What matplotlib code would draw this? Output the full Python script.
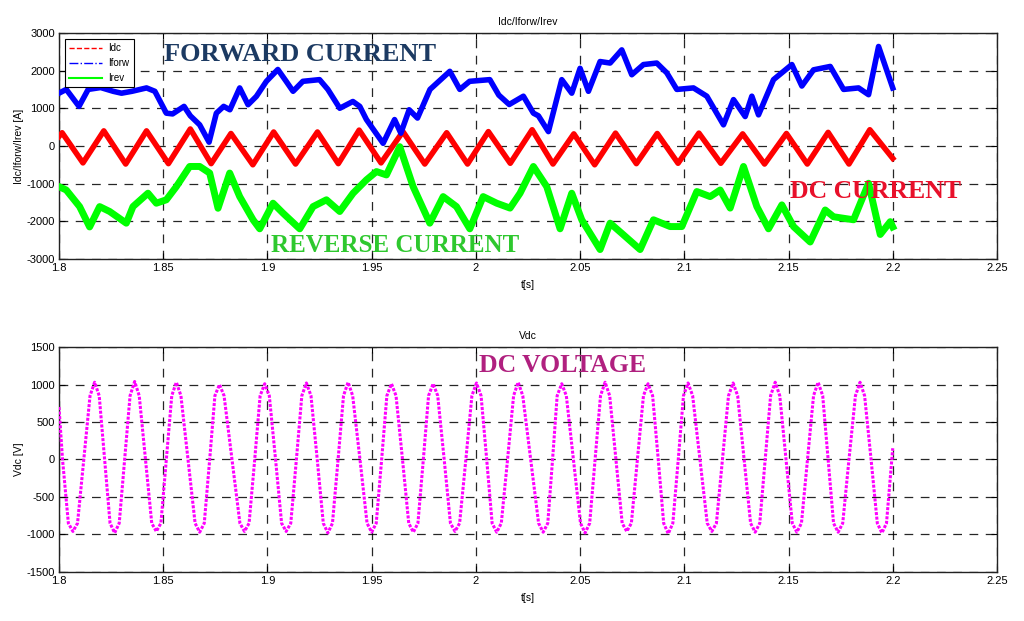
import matplotlib
matplotlib.use("Agg")
import matplotlib.pyplot as plt
from matplotlib.lines import Line2D

# Idc: turning points of the DC current ripple
idc_t = [1.8000, 1.8015, 1.8115, 1.8215, 1.8320, 1.8420, 1.8525, 1.8630, 1.8730, 1.8825,
         1.8930, 1.9030, 1.9135, 1.9240, 1.9340, 1.9440, 1.9545, 1.9650, 1.9755, 1.9860,
         1.9960, 2.0060, 2.0165, 2.0270, 2.0370, 2.0470, 2.0570, 2.0670, 2.0770, 2.0870,
         2.0970, 2.1070, 2.1175, 2.1280, 2.1385, 2.1490, 2.1590, 2.1690, 2.1790, 2.1890,
         2.2000]
idc_v = [250, 350, -450, 400, -480, 400, -470, 450, -470, 330,
         -500, 370, -480, 370, -470, 420, -450, 380, -480, 350,
         -480, 380, -460, 430, -480, 320, -500, 340, -470, 330,
         -460, 340, -460, 320, -480, 330, -480, 360, -480, 430,
         -330]

# Iforw: forward current
iforw_t = [1.8000, 1.8035, 1.8096, 1.8140, 1.8200, 1.8260, 1.8300, 1.8350, 1.8420, 1.8460,
           1.8515, 1.8545, 1.8600, 1.8630, 1.8675, 1.8720, 1.8755, 1.8790, 1.8820, 1.8867,
           1.8907, 1.8947, 1.8995, 1.9050, 1.9090, 1.9123, 1.9170, 1.9250, 1.9290, 1.9347,
           1.9410, 1.9443, 1.9475, 1.9555, 1.9610, 1.9640, 1.9680, 1.9720, 1.9780, 1.9875,
           1.9923, 1.9970, 2.0067, 2.0110, 2.0160, 2.0228, 2.0276, 2.0300, 2.0348, 2.0412,
           2.0460, 2.0500, 2.0540, 2.0596, 2.0644, 2.0700, 2.0748, 2.0804, 2.0868, 2.0916,
           2.0964, 2.1044, 2.1108, 2.1188, 2.1236, 2.1292, 2.1324, 2.1356, 2.1428, 2.1516,
           2.1564, 2.1620, 2.1700, 2.1764, 2.1836, 2.1884, 2.1932, 2.2000]
iforw_v = [1400, 1500, 1050, 1500, 1550, 1450, 1400, 1450, 1540, 1450,
           870, 850, 1050, 800, 560, 100, 870, 1050, 960, 1540,
           1095, 1316, 1715, 2030, 1715, 1450, 1715, 1760, 1500, 1000,
           1180, 1050, 700, 70, 700, 340, 960, 740, 1500, 1980,
           1500, 1715, 1760, 1350, 1100, 1320, 870, 800, 380, 1760,
           1400, 2060, 1450, 2240, 2200, 2550, 1890, 2160, 2200, 1940,
           1500, 1540, 1320, 560, 1230, 780, 1320, 825, 1760, 2160,
           1590, 2020, 2110, 1500, 1540, 1360, 2640, 1540]

# Irev: reverse current
irev_t = [1.8000, 1.8035, 1.8099, 1.8147, 1.8195, 1.8243, 1.8323, 1.8355, 1.8427, 1.8467,
          1.8515, 1.8563, 1.8627, 1.8675, 1.8723, 1.8763, 1.8819, 1.8867, 1.8931, 1.8963,
          1.9027, 1.9075, 1.9155, 1.9219, 1.9283, 1.9347, 1.9411, 1.9475, 1.9523, 1.9571,
          1.9635, 1.9699, 1.9779, 1.9843, 1.9907, 1.9971, 2.0035, 2.0100, 2.0164, 2.0212,
          2.0276, 2.0340, 2.0404, 2.0460, 2.0508, 2.0596, 2.0644, 2.0700, 2.0788, 2.0852,
          2.0932, 2.0988, 2.1060, 2.1124, 2.1172, 2.1220, 2.1284, 2.1348, 2.1404, 2.1468,
          2.1524, 2.1604, 2.1676, 2.1716, 2.1812, 2.1884, 2.1940, 2.1988, 2.2000]
irev_v = [-1080, -1170, -1610, -2150, -1610, -1740, -2050, -1610, -1255, -1520,
          -1430, -1080, -545, -545, -720, -1655, -720, -1345, -1960, -2200,
          -1520, -1785, -2200, -1610, -1430, -1740, -1255, -900, -680, -770,
          -20, -1080, -2050, -1345, -1610, -2200, -1345, -1520, -1650, -1255,
          -545, -1080, -2200, -1255, -1960, -2750, -2050, -2320, -2750, -1960,
          -2140, -2140, -1210, -1345, -1170, -1650, -545, -1610, -2200, -1565,
          -2140, -2550, -1700, -1880, -1960, -990, -2350, -2010, -2150]

# Vdc: DC voltage
vdc_t = [1.8000, 1.8017, 1.8045, 1.8067, 1.8089, 1.8119, 1.8149, 1.8171, 1.8193, 1.8219,
         1.8245, 1.8267, 1.8289, 1.8315, 1.8341, 1.8363, 1.8385, 1.8415, 1.8445, 1.8467,
         1.8489, 1.8515, 1.8541, 1.8563, 1.8585, 1.8619, 1.8653, 1.8675, 1.8697, 1.8723,
         1.8748, 1.8770, 1.8792, 1.8830, 1.8868, 1.8890, 1.8912, 1.8939, 1.8965, 1.8987,
         1.9009, 1.9039, 1.9068, 1.9090, 1.9112, 1.9139, 1.9165, 1.9187, 1.9209, 1.9239,
         1.9268, 1.9290, 1.9312, 1.9339, 1.9365, 1.9387, 1.9409, 1.9444, 1.9478, 1.9500,
         1.9522, 1.9548, 1.9573, 1.9595, 1.9617, 1.9648, 1.9678, 1.9700, 1.9722, 1.9748,
         1.9773, 1.9795, 1.9817, 1.9848, 1.9878, 1.9900, 1.9922, 1.9952, 1.9981, 2.0003,
         2.0025, 2.0052, 2.0078, 2.0100, 2.0122, 2.0152, 2.0181, 2.0203, 2.0225, 2.0263,
         2.0301, 2.0323, 2.0345, 2.0368, 2.0390, 2.0412, 2.0434, 2.0468, 2.0502, 2.0524,
         2.0546, 2.0572, 2.0598, 2.0620, 2.0642, 2.0672, 2.0702, 2.0724, 2.0746, 2.0775,
         2.0804, 2.0826, 2.0848, 2.0875, 2.0901, 2.0923, 2.0945, 2.0971, 2.0996, 2.1018,
         2.1040, 2.1075, 2.1110, 2.1132, 2.1154, 2.1183, 2.1212, 2.1234, 2.1256, 2.1287,
         2.1318, 2.1340, 2.1362, 2.1388, 2.1414, 2.1436, 2.1458, 2.1488, 2.1518, 2.1540,
         2.1562, 2.1591, 2.1620, 2.1642, 2.1664, 2.1690, 2.1716, 2.1738, 2.1760, 2.1790,
         2.1821, 2.1843, 2.1865, 2.1896, 2.1926, 2.1948, 2.1970, 2.2000]
vdc_v = [700, 0, -850, -960, -850, 0, 850, 1030, 850, 0,
         -850, -980, -850, 0, 850, 1040, 850, 0, -850, -960,
         -850, 0, 850, 1030, 850, 0, -850, -970, -850, 0,
         850, 1000, 850, 0, -850, -960, -850, 0, 850, 1010,
         850, 0, -850, -960, -850, 0, 850, 1020, 850, 0,
         -850, -980, -850, 0, 850, 1030, 850, 0, -850, -970,
         -850, 0, 850, 1010, 850, 0, -850, -970, -850, 0,
         850, 1010, 850, 0, -850, -960, -850, 0, 850, 1020,
         850, 0, -850, -970, -850, 0, 850, 1030, 850, 0,
         -850, -970, -850, 0, 850, 1010, 850, 0, -850, -980,
         -850, 0, 850, 1030, 850, 0, -850, -960, -850, 0,
         850, 1010, 850, 0, -850, -990, -850, 0, 850, 1020,
         850, 0, -850, -960, -850, 0, 850, 1020, 850, 0,
         -850, -970, -850, 0, 850, 1030, 850, 0, -850, -970,
         -850, 0, 850, 1030, 850, 0, -850, -970, -850, 0,
         850, 1030, 850, 0, -850, -980, -850, 150]

x_ticks = [1.8, 1.85, 1.9, 1.95, 2.0, 2.05, 2.1, 2.15, 2.2, 2.25]
x_labels = ["1.8", "1.85", "1.9", "1.95", "2", "2.05", "2.1", "2.15", "2.2", "2.25"]

plt.rcParams['font.family'] = ['Liberation Sans', 'DejaVu Sans']
plt.rcParams['font.size'] = 7
plt.rcParams['axes.unicode_minus'] = False

fig = plt.figure(figsize=(10.24, 6.21), dpi=100)
ax1 = fig.add_axes([0.0576, 0.583, 0.916, 0.364])
ax2 = fig.add_axes([0.0576, 0.079, 0.916, 0.3622])


def style_axis(ax, yticks):
    ax.set_xlim(1.8, 2.25)
    ax.set_xticks(x_ticks)
    ax.set_xticklabels(x_labels)
    ax.set_yticks(yticks)
    ax.set_ylim(yticks[0], yticks[-1])
    ax.tick_params(direction='in', top=True, right=True, length=4, width=0.8,
                   labelsize=8, pad=3, colors='black')
    ax.grid(True, color='black', linestyle=(0, (7, 6)), linewidth=0.9, alpha=0.85)
    for s in ax.spines.values():
        s.set_linewidth(1.0)
        s.set_color('#222222')


# top panel
ax1.plot(idc_t, idc_v, color='#ff0000', lw=4, zorder=3)
ax1.plot(iforw_t, iforw_v, color='#0000ff', lw=4, zorder=3)
ax1.plot(irev_t, irev_v, color='#00ff00', lw=5, zorder=4)
style_axis(ax1, [-3000, -2000, -1000, 0, 1000, 2000, 3000])
ax1.set_title("Idc/Iforw/Irev", fontsize=7.5, pad=6)
ax1.set_xlabel("t[s]", fontsize=7.5, labelpad=5)
ax1.set_ylabel("Idc/Iforw/Irev [A]", fontsize=7.5, labelpad=2)

handles = [Line2D([], [], color='#ff0000', ls='--', lw=1),
           Line2D([], [], color='#0000ff', ls='-.', lw=1),
           Line2D([], [], color='#00ff00', ls='-', lw=1.5)]
leg = ax1.legend(handles, ["Idc", "Iforw", "Irev"], loc='upper left',
                 bbox_to_anchor=(0.0064, 0.973), borderaxespad=0, fontsize=7,
                 frameon=True, fancybox=False, edgecolor='black', framealpha=1,
                 handlelength=3.4, handletextpad=0.6, borderpad=0.45,
                 labelspacing=0.5)
leg.get_frame().set_linewidth(0.8)
leg.set_zorder(10)

serif = ['Liberation Serif', 'DejaVu Serif']
ax1.text(1.9157, 2420, "FORWARD CURRENT", color='#1c3a62', fontsize=19,
         fontweight='bold', family=serif, ha='center', va='center', zorder=11)
ax1.text(1.9612, -2630, "REVERSE CURRENT", color='#2ec82e', fontsize=18,
         fontweight='bold', family=serif, ha='center', va='center', zorder=11)
ax1.text(2.1916, -1200, "DC CURRENT", color='#e8102a', fontsize=18.5,
         fontweight='bold', family=serif, ha='center', va='center', zorder=11)

# bottom panel
ax2.plot(vdc_t, vdc_v, color='#ff00ff', lw=2.2, ls=(0, (1.0, 0.5)), zorder=3)
style_axis(ax2, [-1500, -1000, -500, 0, 500, 1000, 1500])
ax2.set_title("Vdc", fontsize=7.5, pad=6)
ax2.set_xlabel("t[s]", fontsize=7.5, labelpad=5)
ax2.set_ylabel("Vdc [V]", fontsize=7.5, labelpad=2)
ax2.text(2.0418, 1260, "DC VOLTAGE", color='#b0207f', fontsize=18.5,
         fontweight='bold', family=serif, ha='center', va='center', zorder=11)

fig.savefig("out.png", dpi=100)
